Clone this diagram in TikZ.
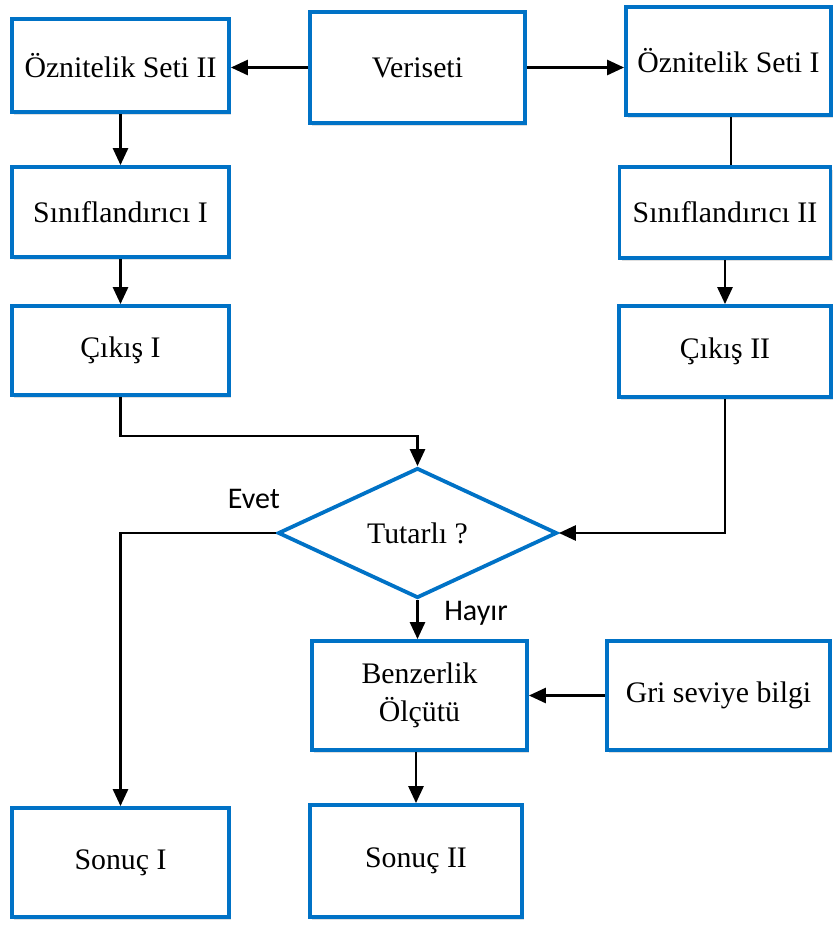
\documentclass[tikz,border=0pt]{standalone}
\usepackage{fontspec}
\setmainfont{Liberation Serif}
\newfontfamily\labelfont{Carlito}
\usetikzlibrary{shapes.geometric,arrows.meta,shadows,calc}
\definecolor{boxblue}{RGB}{0,114,198}
\begin{document}
\begin{tikzpicture}[x=1pt,y=-1pt,
  box/.style={draw=boxblue, line width=3.8pt, fill=white, inner sep=0pt,
    align=center, font=\fontsize{29.8}{38}\selectfont,
    drop shadow={opacity=0.25, shadow xshift=2pt, shadow yshift=-2.5pt}},
  decision/.style={diamond, draw=boxblue, line width=3.8pt, fill=white, inner sep=0pt,
    shape aspect=2.15, font=\fontsize{29.8}{38}\selectfont},
  conn/.style={line width=2.7pt, black},
  arr/.style={conn, -{Triangle[length=17pt,width=15pt]}},
  lbl/.style={font=\labelfont\fontsize{30}{34}\selectfont, inner sep=0pt}]
\useasboundingbox (0,0) rectangle (834,927);
\node[box, minimum width=217pt, minimum height=93pt] (os2) at (120.5,65.5) {Öznitelik Seti II};
\node[box, minimum width=215pt, minimum height=111pt] (veri) at (417.5,67.5) {Veriseti};
\node[box, minimum width=205pt, minimum height=108pt] (os1) at (728.5,61) {Öznitelik Seti I};
\node[box, minimum width=217pt, minimum height=90pt] (s1) at (120.5,212) {Sınıflandırıcı I};
\node[box, minimum width=211pt, minimum height=91pt] (s2) at (725,212.5) {Sınıflandırıcı II};
\node[box, minimum width=217pt, minimum height=89pt] (c1) at (120.5,350.5) {Çıkış I};
\node[box, minimum width=212pt, minimum height=91pt] (c2) at (725,351.5) {Çıkış II};
\node[decision, minimum width=279pt, minimum height=130pt] (dia) at (417.5,533) {Tutarlı ?};
\node[box, minimum width=215pt, minimum height=109pt] (benz) at (419.5,695.5) {Benzerlik\\Ölçütü};
\node[box, minimum width=223pt, minimum height=109pt] (gri) at (718.5,695.5) {Gri seviye bilgi};
\node[box, minimum width=217pt, minimum height=109pt] (son1) at (120.5,862.5) {Sonuç I};
\node[box, minimum width=212pt, minimum height=112pt] (son2) at (416,861) {Sonuç II};
\coordinate (bendL) at (0,436);
\draw[arr] (veri.west) -- (veri.west -| os2.east);
\draw[arr] (veri.east) -- (veri.east -| os1.west);
\draw[arr] (os2.south) -- (s1.north);
\draw[arr] (s1.south) -- (c1.north);
\draw[conn] (os1.south -| 731,0) -- (s2.north -| 731,0);
\draw[arr] (s2.south) -- (c2.north);
\draw[arr] (c1.south) -- (c1.south |- bendL) -- (dia.north |- bendL) -- (dia.north);
\draw[arr] (c2.south) -- (c2.south |- dia.east) -- (dia.east);
\draw[arr] (dia.west) -- (dia.west -| son1.north) -- (son1.north);
\draw[arr] (dia.south) -- (dia.south |- benz.north);
\draw[arr] (gri.west) -- (benz.east);
\draw[arr] (benz.south -| son2.north) -- (son2.north);
\node[lbl] (evet) at (254,499) {Evet};
\node[lbl] (hayir) at (476,613) {Hayır};
\end{tikzpicture}
\end{document}
